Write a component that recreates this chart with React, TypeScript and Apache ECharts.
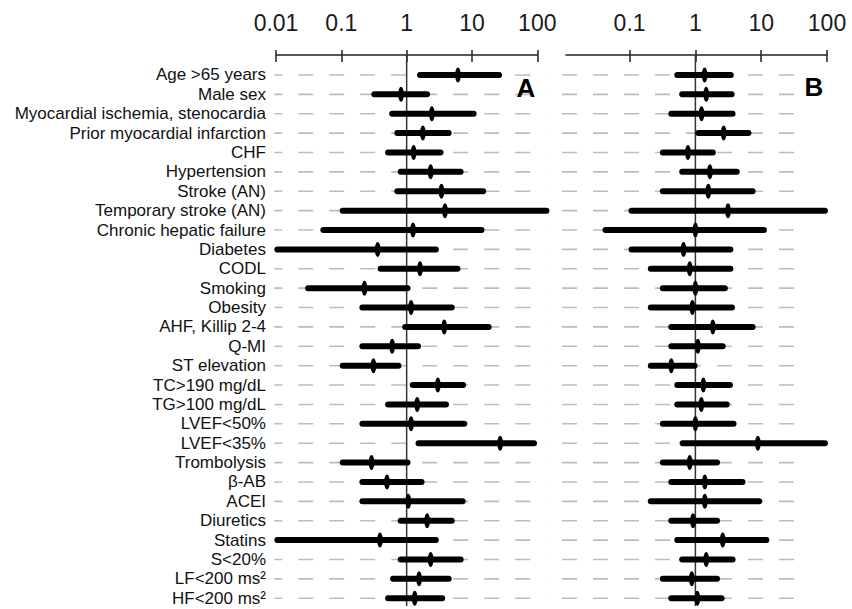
import React, { useEffect, useRef } from "react";
import * as echarts from "echarts";

const rowLabels = [
  "Age >65 years",
  "Male sex",
  "Myocardial ischemia, stenocardia",
  "Prior myocardial infarction",
  "CHF",
  "Hypertension",
  "Stroke (AN)",
  "Temporary stroke (AN)",
  "Chronic hepatic failure",
  "Diabetes",
  "CODL",
  "Smoking",
  "Obesity",
  "AHF, Killip 2-4",
  "Q-MI",
  "ST elevation",
  "TC>190 mg/dL",
  "TG>100 mg/dL",
  "LVEF<50%",
  "LVEF<35%",
  "Trombolysis",
  "β-AB",
  "ACEI",
  "Diuretics",
  "Statins",
  "S<20%",
  "LF<200 ms²",
  "HF<200 ms²",
];

// Panel A: odds ratio estimate and 95% CI
const aEst = [6.1, 0.82, 2.43, 1.77, 1.28, 2.33, 3.41, 3.86, 1.25, 0.36, 1.6, 0.226, 1.17, 3.76, 0.6, 0.31, 3.0, 1.45, 1.17, 27, 0.29, 0.5, 1.06, 2.06, 0.39, 2.33, 1.55, 1.33];
const aLo = [1.6, 0.32, 0.6, 0.72, 0.52, 0.81, 0.72, 0.105, 0.053, 0.0105, 0.4, 0.031, 0.21, 0.95, 0.21, 0.105, 1.24, 0.52, 0.21, 1.52, 0.105, 0.21, 0.21, 0.81, 0.0105, 0.81, 0.62, 0.52];
const aHi = [26, 2.05, 10.6, 4.4, 3.3, 6.7, 14.8, 138, 14, 2.8, 6.0, 1.03, 4.9, 18, 1.49, 0.75, 7.3, 4.0, 7.6, 89, 1.03, 1.69, 7.2, 4.9, 2.8, 6.7, 4.4, 3.5];

// Panel B
const bEst = [1.38, 1.46, 1.24, 2.69, 0.77, 1.66, 1.57, 3.13, 1.0, 0.66, 0.82, 1.0, 0.9, 1.84, 1.09, 0.43, 1.32, 1.23, 1.0, 8.9, 0.82, 1.39, 1.39, 0.92, 2.6, 1.46, 0.88, 1.07];
const bLo = [0.53, 0.63, 0.43, 1.11, 0.32, 0.63, 0.32, 0.107, 0.043, 0.107, 0.21, 0.32, 0.21, 0.43, 0.43, 0.21, 0.53, 0.53, 0.32, 0.64, 0.32, 0.43, 0.21, 0.43, 0.53, 0.63, 0.32, 0.43];
const bHi = [3.45, 3.55, 3.67, 6.4, 1.84, 4.25, 7.4, 93, 11, 3.4, 3.4, 2.8, 3.6, 7.4, 2.6, 0.97, 3.35, 3.0, 3.8, 93, 2.13, 5.2, 9.3, 2.13, 12, 3.67, 2.13, 2.5];

const bTickValues = [0.1, 1, 10, 100];
const refValue = 1;

const FONT = "'Liberation Sans', Arial, Helvetica, sans-serif";
const Y_MIN = -1.03;
const Y_MAX = 27.4;

function fmtTick(v: number): string {
  const e = Math.round(Math.log10(v));
  return e < 0 ? v.toFixed(-e) : String(Math.round(v));
}

function ciSeries(xi: number, lo: number[], hi: number[], est: number[]) {
  return {
    type: "custom",
    xAxisIndex: xi,
    yAxisIndex: xi,
    clip: false,
    z: 5,
    encode: { x: [0, 1, 2], y: 3 },
    data: est.map((e, i) => [lo[i], hi[i], e, i]),
    renderItem: (params: any, api: any) => {
      const i = api.value(3);
      const p1 = api.coord([api.value(0), i]);
      const p2 = api.coord([api.value(1), i]);
      const pe = api.coord([api.value(2), i]);
      return {
        type: "group",
        children: [
          {
            type: "line",
            shape: { x1: p1[0], y1: p1[1], x2: p2[0], y2: p2[1] },
            style: { stroke: "#000", lineWidth: 6, lineCap: "round" },
          },
          {
            type: "ellipse",
            shape: { cx: pe[0], cy: pe[1], rx: 2.8, ry: 7.5 },
            style: { fill: "#000" },
          },
        ],
      };
    },
  };
}

function dashSeries(xi: number, from: number, to: number, offset: number) {
  return {
    type: "custom",
    xAxisIndex: xi,
    yAxisIndex: xi,
    clip: false,
    z: 1,
    encode: { x: [0, 1], y: 2 },
    data: rowLabels.map((_, i) => [from, to, i]),
    renderItem: (params: any, api: any) => {
      const i = api.value(2);
      const p1 = api.coord([api.value(0), i]);
      const p2 = api.coord([api.value(1), i]);
      return {
        type: "line",
        shape: { x1: p1[0], y1: p1[1], x2: p2[0], y2: p2[1] },
        style: { stroke: "#bdbdbd", lineWidth: 1.6, lineDash: [15, 16], lineDashOffset: offset },
      };
    },
  };
}

function refSeries(xi: number) {
  return {
    type: "custom",
    xAxisIndex: xi,
    yAxisIndex: xi,
    clip: false,
    z: 3,
    encode: { x: 0, y: 1 },
    data: [[refValue, Y_MIN, Y_MAX]],
    renderItem: (params: any, api: any) => {
      const p1 = api.coord([api.value(0), api.value(1)]);
      const p2 = api.coord([api.value(0), api.value(2)]);
      return {
        type: "line",
        shape: { x1: p1[0], y1: p1[1], x2: p2[0], y2: p2[1] },
        style: { stroke: "#333", lineWidth: 1.5 },
      };
    },
  };
}

function labelSeries() {
  return {
    type: "custom",
    xAxisIndex: 0,
    yAxisIndex: 0,
    clip: false,
    z: 4,
    encode: { x: 0, y: 1 },
    data: rowLabels.map((_, i) => [0.01, i]),
    renderItem: (params: any, api: any) => {
      const i = api.value(1);
      const p = api.coord([api.value(0), i]);
      return {
        type: "text",
        x: p[0] - 10,
        y: p[1],
        style: {
          text: rowLabels[params.dataIndex],
          align: "right",
          verticalAlign: "middle",
          fontSize: 17,
          fontFamily: FONT,
          fill: "#111",
        },
      };
    },
  };
}

export default function App() {
  const ref = useRef<HTMLDivElement>(null);
  useEffect(() => {
    document.body.style.margin = "0";
    if (!ref.current) return;
    const chart = echarts.init(ref.current, undefined, { renderer: "svg" });
    const axisCol = "#222";
    const mainAxis = (gi: number, min: number, custom?: number[]) => ({
      type: "log",
      logBase: 10,
      gridIndex: gi,
      min,
      max: 100,
      position: "top",
      axisLine: { show: true, onZero: false, lineStyle: { color: axisCol, width: 1.5 } },
      axisTick: { show: true, length: 5, lineStyle: { color: axisCol, width: 1.5 }, ...(custom ? { customValues: custom } : {}) },
      axisLabel: {
        show: true,
        fontSize: 23,
        fontFamily: FONT,
        color: "#1a1a1a",
        margin: 21,
        formatter: (v: number) => fmtTick(v),
        ...(custom ? { customValues: custom } : {}),
      },
      splitLine: { show: false },
    });
    const tickAxis = (gi: number, min: number, custom?: number[]) => ({
      type: "log",
      logBase: 10,
      gridIndex: gi,
      min,
      max: 100,
      position: "top",
      axisLine: { show: false, onZero: false },
      axisTick: { show: true, inside: true, length: 7, lineStyle: { color: axisCol, width: 1.5 }, ...(custom ? { customValues: custom } : {}) },
      axisLabel: { show: false },
      splitLine: { show: false },
    });
    const hiddenY = (gi: number, full: boolean) => ({
      type: "value",
      gridIndex: gi,
      show: false,
      inverse: true,
      ...(full ? { min: Y_MIN, max: Y_MAX } : { min: 0, max: 1 }),
      splitLine: { show: false },
    });
    chart.setOption({
      animation: false,
      backgroundColor: "#fff",
      grid: [
        { left: 276, width: 261.3, top: 55, height: 551 },
        { left: 566, width: 261, top: 55, height: 551 },
        { left: 276, width: 261.3, top: 55, height: 8 },
        { left: 566, width: 261, top: 55, height: 8 },
      ],
      xAxis: [
        mainAxis(0, 0.01),
        mainAxis(1, 0.0108, bTickValues),
        tickAxis(2, 0.01),
        tickAxis(3, 0.0108, bTickValues),
      ],
      yAxis: [hiddenY(0, true), hiddenY(1, true), hiddenY(2, false), hiddenY(3, false)],
      graphic: [
        {
          type: "text",
          x: 526,
          y: 88,
          z: 10,
          style: { text: "A", fontSize: 26, fontWeight: "bold", fontFamily: FONT, fill: "#000", align: "center", verticalAlign: "middle" },
        },
        {
          type: "text",
          x: 814,
          y: 87,
          z: 10,
          style: { text: "B", fontSize: 26, fontWeight: "bold", fontFamily: FONT, fill: "#000", align: "center", verticalAlign: "middle" },
        },
      ],
      series: [
        dashSeries(0, 0.0094, 138, 7),
        dashSeries(1, 0.0094, 44, 0),
        refSeries(0),
        refSeries(1),
        labelSeries(),
        ciSeries(0, aLo, aHi, aEst),
        ciSeries(1, bLo, bHi, bEst),
      ],
    });
    return () => chart.dispose();
  }, []);
  return <div ref={ref} style={{ width: 852, height: 609 }} />;
}
